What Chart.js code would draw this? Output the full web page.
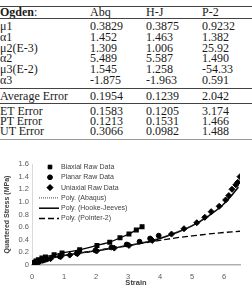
<!DOCTYPE html>
<html>
<head>
<meta charset="utf-8">
<script src="https://cdn.jsdelivr.net/npm/chart.js@4.4.0/dist/chart.umd.min.js"></script>
<style>
  body { margin: 0; width: 252px; height: 287px; overflow: hidden; background: #fff; position: relative;
         font-family: "Liberation Serif", "Times New Roman", serif; }
  .hr { position: absolute; left: 0; width: 252px; height: 1px; background: #444; }
  .row { position: absolute; left: 0; width: 252px; height: 12px; line-height: 12px; font-size: 12px; color: #1a1a1a; white-space: nowrap; }
  .row span { position: absolute; top: 0; }
  #wrap { position: absolute; left: 0; top: 141px; width: 252px; height: 146px; }
</style>
</head>
<body>
<div id="table"></div>
<div id="wrap"><canvas id="chart" width="252" height="146"></canvas></div>
<script>
// table
const headers = ['Abq', 'H-J', 'P-2'];
const paramNames = ['μ1', 'α1', 'μ2(E-3)', 'α2', 'μ3(E-2)', 'α3'];
const abqParams = ['0.3829', '1.452', '1.309', '5.489', '1.545', '-1.875'];
const hjParams = ['0.3875', '1.463', '1.006', '5.587', '1.258', '-1.963'];
const p2Params = ['0.9232', '1.382', '25.92', '1.490', '-54.33', '0.591'];
const avgError = ['0.1954', '0.1239', '2.042'];
const errorNames = ['ET Error', 'PT Error', 'UT Error'];
const abqErrors = ['0.1583', '0.1213', '0.3066'];
const hjErrors = ['0.1205', '0.1531', '0.0982'];
const p2Errors = ['3.174', '1.466', '1.488'];

// chart data (strain, quartered stress MPa)
const strainTicks = [0, 1, 2, 3, 4, 5, 6];
const biaxialX = [0, 0.04, 0.08, 0.12, 0.14, 0.2, 0.31, 0.42, 0.69, 0.94, 1.49, 2.03, 2.43, 2.75, 3.03, 3.26, 3.44];
const biaxialY = [0, 0.022, 0.04, 0.06, 0.065, 0.082, 0.11, 0.128, 0.162, 0.192, 0.24, 0.31, 0.362, 0.43, 0.49, 0.555, 0.607];
const planarX = [0, 0.06, 0.14, 0.21, 0.32, 0.46, 0.87, 1.4, 1.98, 2.48, 2.96, 3.36, 3.69, 3.96];
const planarY = [0, 0.017, 0.035, 0.049, 0.067, 0.088, 0.133, 0.184, 0.23, 0.278, 0.325, 0.37, 0.42, 0.465];
const uniaxialX = [0, 0.02, 0.12, 0.24, 0.39, 0.58, 0.9, 1.18, 1.42, 2.02, 2.57, 3.03, 3.76, 4.36, 4.75, 5.15, 5.4, 5.6, 5.85, 6.05, 6.15, 6.25, 6.37, 6.43, 6.5];
const uniaxialY = [0, 0.006, 0.033, 0.056, 0.078, 0.1, 0.133, 0.157, 0.178, 0.222, 0.268, 0.31, 0.39, 0.49, 0.575, 0.67, 0.755, 0.845, 0.93, 1.03, 1.1, 1.2, 1.27, 1.31, 1.4];
const polyX = [0, 0.25, 0.5, 1, 1.5, 2, 2.5, 3, 3.5, 4, 4.5, 5, 5.5, 6, 6.45];
const abaqusY = [0, 0.06, 0.1, 0.15, 0.19, 0.23, 0.27, 0.31, 0.36, 0.43, 0.52, 0.63, 0.78, 0.98, 1.25];
const hookeJeevesY = [0, 0.06, 0.1, 0.15, 0.19, 0.225, 0.265, 0.305, 0.355, 0.42, 0.51, 0.62, 0.77, 0.97, 1.23];
const pointer2X = [0, 0.25, 0.5, 1, 1.5, 2, 2.5, 3, 3.5, 4, 4.5, 5, 5.5, 6, 6.5];
const pointer2Y = [0, 0.06, 0.1, 0.15, 0.19, 0.23, 0.27, 0.31, 0.35, 0.39, 0.43, 0.46, 0.49, 0.515, 0.535];

// build table
const table = document.getElementById('table');
const colX = [0, 90, 146, 202];
function addRow(y, cells, boldFirst) {
    let row = document.createElement('div');
    row.className = 'row';
    row.style.top = (y - 6) + 'px';
    cells.forEach((c, i) => {
        let s = document.createElement('span');
        s.style.left = colX[i] + 'px';
        if (i === 0 && boldFirst) s.innerHTML = '<b>' + c + '</b>:';
        else s.textContent = c;
        row.appendChild(s);
    });
    table.appendChild(row);
}
function addLine(y, color) {
    let l = document.createElement('div');
    l.className = 'hr';
    l.style.top = y + 'px';
    if (color) l.style.background = color;
    table.appendChild(l);
}
addLine(6);
addRow(12, ['Ogden'].concat(headers), true);
addLine(18);
let paramY = [26, 37, 48, 58, 69, 80];
paramNames.forEach((n, i) => addRow(paramY[i], [n, abqParams[i], hjParams[i], p2Params[i]]));
addLine(88);
addRow(96, ['Average Error'].concat(avgError));
addLine(103);
let errY = [111, 121, 131];
errorNames.forEach((n, i) => addRow(errY[i], [n, abqErrors[i], hjErrors[i], p2Errors[i]]));
addLine(139, '#999');

// chart
function pts(xs, ys) { return xs.map((x, i) => ({ x: x, y: ys[i] })); }

const datasets = [
    { label: 'Biaxial Raw Data', data: pts(biaxialX, biaxialY), pointStyle: 'rect', pointRadius: 2.6,
      showLine: true, borderColor: '#000', borderWidth: 1.3, tension: 0.3, backgroundColor: '#000' },
    { label: 'Planar Raw Data', data: pts(planarX, planarY), pointStyle: 'circle', pointRadius: 2.4,
      showLine: false, borderColor: '#000', backgroundColor: '#000' },
    { label: 'Uniaxial Raw Data', data: pts(uniaxialX, uniaxialY), pointStyle: 'rectRot', pointRadius: 3,
      showLine: false, borderColor: '#000', backgroundColor: '#000' },
    { label: 'Poly. (Abaqus)', data: pts(polyX, abaqusY), pointRadius: 0, showLine: true,
      borderColor: '#444', borderWidth: 1, borderDash: [1, 1], tension: 0.4, isLine: true },
    { label: 'Poly. (Hooke-Jeeves)', data: pts(polyX, hookeJeevesY), pointRadius: 0, showLine: true,
      borderColor: '#000', borderWidth: 1.5, tension: 0.4, isLine: true },
    { label: 'Poly. (Pointer-2)', data: pts(pointer2X, pointer2Y), pointRadius: 0, showLine: true,
      borderColor: '#000', borderWidth: 1.3, borderDash: [6, 3], tension: 0.4, isLine: true }
];

// legend drawn inside the plot, like the excel one
const legendInside = {
    id: 'legendInside',
    afterDraw(chart) {
        let ctx = chart.ctx;
        ctx.save();
        ctx.font = '7px "Liberation Sans", Arial, sans-serif';
        ctx.textBaseline = 'middle';
        ctx.fillStyle = '#404040';
        chart.data.datasets.forEach((ds, i) => {
            let y = 26 + i * 10.3;
            if (ds.isLine) {
                ctx.save();
                ctx.strokeStyle = ds.borderColor;
                ctx.lineWidth = ds.borderWidth;
                ctx.setLineDash(ds.borderDash || []);
                ctx.beginPath();
                ctx.moveTo(39, y);
                ctx.lineTo(59, y);
                ctx.stroke();
                ctx.restore();
            } else {
                Chart.helpers.drawPoint(ctx, {
                    pointStyle: ds.pointStyle, radius: ds.pointRadius, borderWidth: 1
                }, 50, y);
                ctx.fillStyle = '#000';
                ctx.fill();
                ctx.fillStyle = '#404040';
            }
            ctx.fillText(ds.label, 61, y);
        });
        ctx.restore();
    }
};

new Chart(document.getElementById('chart'), {
    type: 'scatter',
    data: { datasets: datasets },
    plugins: [legendInside],
    options: {
        responsive: false,
        animation: false,
        devicePixelRatio: 1,
        layout: { padding: { top: 23, right: 12, left: 0, bottom: 0 } },
        plugins: { legend: { display: false }, tooltip: { enabled: false } },
        elements: { point: { borderWidth: 1 } },
        scales: {
            x: {
                type: 'linear', min: 0, max: 6.5,
                afterBuildTicks: s => { s.ticks = strainTicks.map(v => ({ value: v })); },
                afterFit: s => { s.height = 22; },
                grid: { display: false, drawTicks: false },
                border: { display: true, color: '#b0b0b0', width: 1.5 },
                ticks: { padding: 7, color: '#595959', font: { size: 7.5, family: '"Liberation Sans", Arial' } },
                title: { display: true, text: 'Strain', color: '#404040', padding: { top: 0, bottom: 0 },
                         font: { size: 7.5, weight: 'bold', family: '"Liberation Sans", Arial' } }
            },
            y: {
                type: 'linear', min: 0, max: 1.6,
                afterFit: s => { s.width = 32; },
                grid: { display: false, drawTicks: false },
                border: { display: true, color: '#d9d9d9', width: 1 },
                ticks: { stepSize: 0.2, padding: 3, color: '#595959', font: { size: 7.5, family: '"Liberation Sans", Arial' } },
                title: { display: true, text: 'Quartered Stress (MPa)', color: '#404040', padding: { top: 3, bottom: 0 },
                         font: { size: 7, weight: 'bold', family: '"Liberation Sans", Arial' } }
            }
        }
    }
});
</script>
</body>
</html>
